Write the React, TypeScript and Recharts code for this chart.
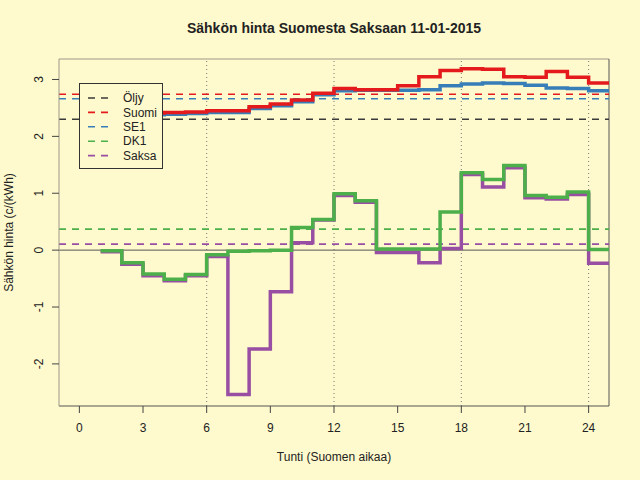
import { Legend, Line, LineChart, ReferenceLine, XAxis, YAxis } from 'recharts';

const hours = [1, 2, 3, 4, 5, 6, 7, 8, 9, 10, 11, 12, 13, 14, 15, 16, 17, 18, 19, 20, 21, 22, 23, 24, 25];

const suomi = [2.44, 2.42, 2.41, 2.42, 2.43, 2.45, 2.45, 2.52, 2.57, 2.64, 2.76, 2.84, 2.82, 2.82, 2.89, 3.05, 3.16, 3.19, 3.18, 3.05, 3.04, 3.14, 3.04, 2.94, 2.94];
const se1 = [2.41, 2.39, 2.38, 2.39, 2.4, 2.42, 2.42, 2.49, 2.54, 2.61, 2.73, 2.8, 2.81, 2.81, 2.81, 2.82, 2.89, 2.92, 2.94, 2.93, 2.9, 2.85, 2.84, 2.8, 2.8];
const dk1 = [-0.01, -0.22, -0.42, -0.51, -0.43, -0.08, -0.02, -0.01, 0.0, 0.4, 0.54, 0.99, 0.87, 0.02, 0.02, 0.02, 0.67, 1.36, 1.24, 1.49, 0.96, 0.93, 1.02, 0.01, 0.01];
const saksa = [-0.03, -0.25, -0.45, -0.54, -0.45, -0.11, -2.54, -1.74, -0.73, 0.13, 0.53, 0.96, 0.84, -0.04, -0.04, -0.22, 0.03, 1.33, 1.11, 1.45, 0.92, 0.9, 0.98, -0.23, -0.23];

// keskiarvot (vaakaviivat)
const averages = [
  { name: 'Öljy', value: 2.3, color: '#3a3a3a' },
  { name: 'Suomi', value: 2.74, color: '#e41a1c' },
  { name: 'SE1', value: 2.66, color: '#377eb8' },
  { name: 'DK1', value: 0.37, color: '#4daf4a' },
  { name: 'Saksa', value: 0.105, color: '#984ea3' }
];

const xTicks = [0, 3, 6, 9, 12, 15, 18, 21, 24];
const yTicks = [-2, -1, 0, 1, 2, 3];
const dayLines = [6, 12, 18, 24];
const xDomain: [number, number] = [-0.96, 24.96];
const yDomain: [number, number] = [-2.74, 3.36];

const data = hours.map((hour, i) => ({
  hour,
  suomi: suomi[i],
  se1: se1[i],
  dk1: dk1[i],
  saksa: saksa[i]
}));

const font = '"Liberation Sans", Arial, Helvetica, sans-serif';
const bg = '#fffacd';

function YTick({ x, y, payload }: any) {
  return (
    <text x={x} y={y} dy="0.35em" textAnchor="middle" transform={`rotate(-90, ${x}, ${y})`} fontSize={12} fill="#222" fontFamily={font}>
      {payload.value}
    </text>
  );
}

function LegendBox() {
  return (
    <svg width={84} height={86} style={{ display: 'block' }}>
      <rect x={0.5} y={0.5} width={83} height={85} fill={bg} stroke="#333" strokeWidth={1} />
      {averages.map((item, i) => {
        const rowY = 15 + i * 14.4;
        return (
          <g key={item.name}>
            <line x1={9} x2={29} y1={rowY} y2={rowY} stroke={item.color} strokeWidth={1.6} strokeDasharray="7 6" />
            <text x={44} y={rowY} dy="0.35em" fontSize={12} fill="#222" fontFamily={font}>
              {item.name}
            </text>
          </g>
        );
      })}
    </svg>
  );
}

export default function App() {
  return (
    <div style={{ position: 'fixed', left: 0, top: 0, width: 640, height: 480, background: bg, fontFamily: font }}>
      <div style={{ position: 'absolute', left: 59, top: 20, width: 550, textAlign: 'center', fontSize: 14, fontWeight: 'bold', lineHeight: '16px', color: '#222' }}>
        Sähkön hinta Suomesta Saksaan 11-01-2015
      </div>
      <LineChart width={640} height={480} data={data} margin={{ top: 59, right: 31, bottom: 24, left: 0 }} style={{ position: 'absolute', left: 0, top: 0 }}>
        <XAxis
          dataKey="hour"
          type="number"
          domain={xDomain}
          allowDataOverflow
          ticks={xTicks}
          interval={0}
          height={50}
          tickSize={7}
          tickMargin={10}
          tick={{ fontSize: 12, fill: '#222', fontFamily: font }}
          tickLine={{ stroke: '#444' }}
          axisLine={{ stroke: '#555' }}
          label={{
            content: ({ viewBox }: any) => (
              <text x={viewBox.x + viewBox.width / 2} y={viewBox.y + 55} textAnchor="middle" fontSize={12} fill="#222" fontFamily={font}>
                Tunti (Suomen aikaa)
              </text>
            )
          }}
        />
        <YAxis
          type="number"
          domain={yDomain}
          allowDataOverflow
          ticks={yTicks}
          interval={0}
          width={59}
          tickSize={7}
          tickMargin={13}
          tick={<YTick />}
          tickLine={{ stroke: '#444' }}
          axisLine={{ stroke: '#9c9888' }}
          label={{
            content: ({ viewBox }: any) => {
              const cx = viewBox.x + 9;
              const cy = viewBox.y + viewBox.height / 2;
              return (
                <text x={cx} y={cy} dy="0.35em" textAnchor="middle" transform={`rotate(-90, ${cx}, ${cy})`} fontSize={12} fill="#222" fontFamily={font}>
                  Sähkön hinta (c/(kWh)
                </text>
              );
            }
          }}
        />
        <ReferenceLine y={yDomain[1]} stroke="#9c9888" strokeWidth={1} />
        <ReferenceLine x={xDomain[1]} stroke="#555" strokeWidth={1} />
        {dayLines.map((d) => (
          <ReferenceLine key={d} x={d} stroke="#777" strokeWidth={1} strokeDasharray="1 3" />
        ))}
        <ReferenceLine y={0} stroke="#555" strokeWidth={1} />
        {averages.map((item) => (
          <ReferenceLine key={item.name} y={item.value} stroke={item.color} strokeWidth={1.6} strokeDasharray="7 6" />
        ))}
        <Line type="stepAfter" dataKey="saksa" stroke="#984ea3" strokeWidth={3.5} dot={false} isAnimationActive={false} />
        <Line type="stepAfter" dataKey="dk1" stroke="#4daf4a" strokeWidth={3.5} dot={false} isAnimationActive={false} />
        <Line type="stepAfter" dataKey="se1" stroke="#377eb8" strokeWidth={3.5} dot={false} isAnimationActive={false} />
        <Line type="stepAfter" dataKey="suomi" stroke="#e41a1c" strokeWidth={3.5} dot={false} isAnimationActive={false} />
        <Legend
          layout="vertical"
          align="center"
          verticalAlign="middle"
          content={() => <LegendBox />}
          wrapperStyle={{ position: 'absolute', left: 79, top: 83, width: 84, height: 86 }}
        />
      </LineChart>
    </div>
  );
}
